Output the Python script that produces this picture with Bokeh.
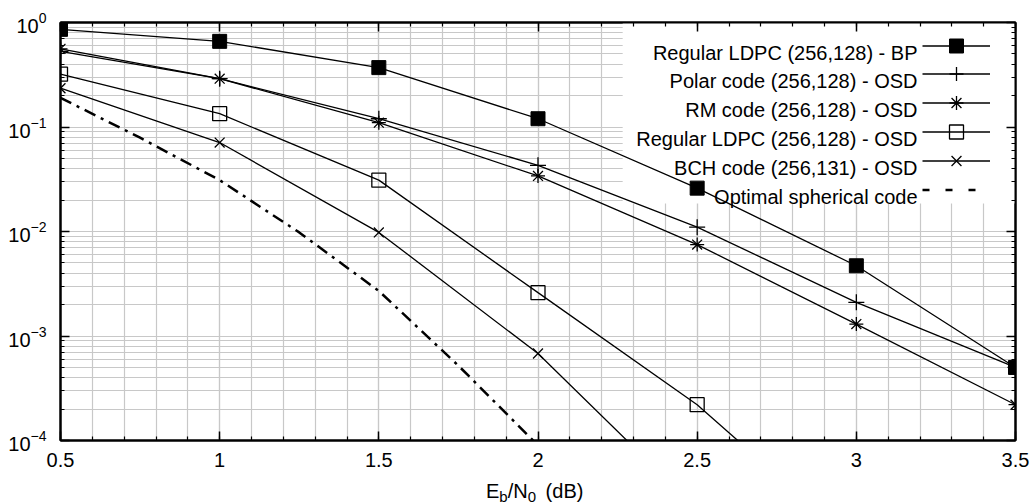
from bokeh.plotting import figure
from bokeh.layouts import column
from bokeh.models import (Range1d, LinearAxis, LogAxis, FixedTicker, NumeralTickFormatter,
                          Legend, LegendItem, Label, BoxAnnotation, Div)
from bokeh.embed import file_html
from bokeh.resources import INLINE

# ---------------- data ----------------
ebn0 = [0.5, 1.0, 1.5, 2.0, 2.5, 3.0, 3.5]
ldpc_bp = [0.86, 0.66, 0.37, 0.12, 0.026, 0.0047, 0.0005]
polar_osd = [0.53, 0.29, 0.12, 0.043, 0.011, 0.0021, 0.0005]
rm_osd = [0.56, 0.29, 0.11, 0.034, 0.0075, 0.0013, 0.00022]
ldpc_osd_x = [0.5, 1.0, 1.5, 2.0, 2.5, 3.0]
ldpc_osd = [0.32, 0.134, 0.031, 0.0026, 0.00022, 0.00001]
bch_x = [0.5, 1.0, 1.5, 2.0, 2.5]
bch_osd = [0.235, 0.071, 0.0098, 0.00068, 0.000022]
sphere_x = [0.5, 0.75, 1.0, 1.25, 1.5, 1.75, 2.0]
sphere = [0.19, 0.079, 0.031, 0.0098, 0.0027, 0.00052, 0.00009]

series_labels = ["Regular LDPC (256,128) - BP", "Polar code (256,128) - OSD",
                 "RM code (256,128) - OSD", "Regular LDPC (256,128) - OSD",
                 "BCH code (256,131) - OSD", "Optimal spherical code"]
x_major = [0.5, 1.0, 1.5, 2.0, 2.5, 3.0, 3.5]
x_minor = [round(0.5 + 0.1 * i, 1) for i in range(31)]
y_major = [1e-4, 1e-3, 1e-2, 1e-1, 1.0]
y_minor = [k * 10.0 ** e for e in range(-4, 0) for k in range(2, 10)]

FONT = "Liberation Sans"
GRID = "#c8c8c8"

p = figure(width=1036, height=478, x_range=Range1d(0.5, 3.5), y_range=Range1d(1e-4, 1.0),
           y_axis_type="log", output_backend="svg", toolbar_location=None,
           min_border_left=60, min_border_right=21, min_border_top=22, min_border_bottom=38,
           background_fill_color="white", border_fill_color="white", margin=0)

xt = FixedTicker(ticks=x_major, minor_ticks=x_minor)
yt = FixedTicker(ticks=y_major, minor_ticks=y_minor)

ax_bottom = p.below[0]
ax_left = p.left[0]
ax_top = LinearAxis(ticker=xt)
ax_right = LogAxis(ticker=yt)
p.add_layout(ax_top, "above")
p.add_layout(ax_right, "right")

ax_bottom.ticker = xt
ax_left.ticker = yt
ax_bottom.formatter = NumeralTickFormatter(format="0.[0]")
for ax in (ax_bottom, ax_left, ax_top, ax_right):
    ax.axis_line_color = "black"
    ax.axis_line_width = 2
    ax.major_tick_in = 9
    ax.major_tick_out = 0
    ax.minor_tick_in = 4
    ax.minor_tick_out = 0
    ax.major_tick_line_color = "black"
    ax.major_tick_line_width = 1.5
    ax.minor_tick_line_color = "black"
    ax.minor_tick_line_width = 1.2
    ax.major_label_text_font = FONT
    ax.major_label_text_font_size = "20px"
    ax.major_label_text_color = "black"
ax_bottom.major_label_standoff = 12
ax_left.major_label_standoff = 14
for ax in (ax_top, ax_right):
    ax.major_label_text_font_size = "1px"
    ax.major_label_text_alpha = 0
    ax.major_label_standoff = 0

p.xgrid.ticker = xt
p.ygrid.ticker = yt
for g in (p.xgrid, p.ygrid):
    g.grid_line_color = GRID
    g.grid_line_width = 1.2
    g.minor_grid_line_color = GRID
    g.minor_grid_line_width = 1.2
p.outline_line_color = "black"
p.outline_line_width = 2

# white key area hides the grid (drawn beneath the data)
p.add_layout(BoxAnnotation(left=2.266, bottom=0.0185, fill_color="white", fill_alpha=1.0,
                           line_color=None, level="underlay"))

LW = 1.3
MS = 14
r1 = p.line(ebn0, ldpc_bp, line_color="black", line_width=LW)
s1 = p.scatter(ebn0, ldpc_bp, marker="square", size=MS, fill_color="black", line_color="black")
r2 = p.line(ebn0, polar_osd, line_color="black", line_width=LW)
s2 = p.scatter(ebn0, polar_osd, marker="cross", size=MS + 2, line_color="black", line_width=LW)
r3 = p.line(ebn0, rm_osd, line_color="black", line_width=LW)
s3 = p.scatter(ebn0, rm_osd, marker="asterisk", size=MS, line_color="black", line_width=LW)
r4 = p.line(ldpc_osd_x, ldpc_osd, line_color="black", line_width=LW)
s4 = p.scatter(ldpc_osd_x, ldpc_osd, marker="square", size=MS, fill_color=None,
               line_color="black", line_width=LW)
r5 = p.line(bch_x, bch_osd, line_color="black", line_width=LW)
s5 = p.scatter(bch_x, bch_osd, marker="x", size=MS, line_color="black", line_width=LW)
r6 = p.line(sphere_x, sphere, line_color="black", line_width=2.5, line_dash="12 6 3 6")
# key sample for the spherical bound (gnuplot draws it as a plain dashed line)
r6k = p.line(x=sphere_x[:1], y=sphere[:1], line_color="black", line_width=2.5,
             line_dash="7 16")

# key: one sample per row on the right, texts right-aligned to its left (gnuplot style)
key_renderers = [[r1, s1], [r2, s2], [r3, s3], [r4, s4], [r5, s5], [r6k]]
for i, (t_label, rends) in enumerate(zip(series_labels, key_renderers)):
    p.add_layout(Legend(items=[LegendItem(label=" ", renderers=rends)],
                        location=(862, 377.5 - 28.8 * i), padding=0, spacing=0,
                        glyph_height=35, glyph_width=68, label_height=20, label_standoff=0,
                        label_width=0, margin=0, label_text_font_size="10px",
                        border_line_color=None, background_fill_alpha=0))
    p.add_layout(Label(x=857, y=388 - 28.8 * i, x_units="screen", y_units="screen",
                       text=t_label, text_align="right", text_baseline="alphabetic",
                       text_font=FONT, text_font_size="20px", text_color="black"))

# ---- x axis title E_b/N_0 (dB), with subscripts, in a strip below the plot ----
sub = "font-size:15px;position:relative;top:4px"
title_html = (
    '<div style="margin-left:486px;margin-top:3px;font-family:\'Liberation Sans\';'
    'font-size:20px;line-height:20px;color:#000;white-space:nowrap">'
    'E<span style="%s">b</span>/N<span style="%s">0</span>'
    ' <span style="margin-left:4px">(dB)</span></div>' % (sub, sub))
xlabel = Div(text=title_html, width=1036, height=25, margin=0)

open("out.html", "w").write(file_html(column(p, xlabel, spacing=0), INLINE))
